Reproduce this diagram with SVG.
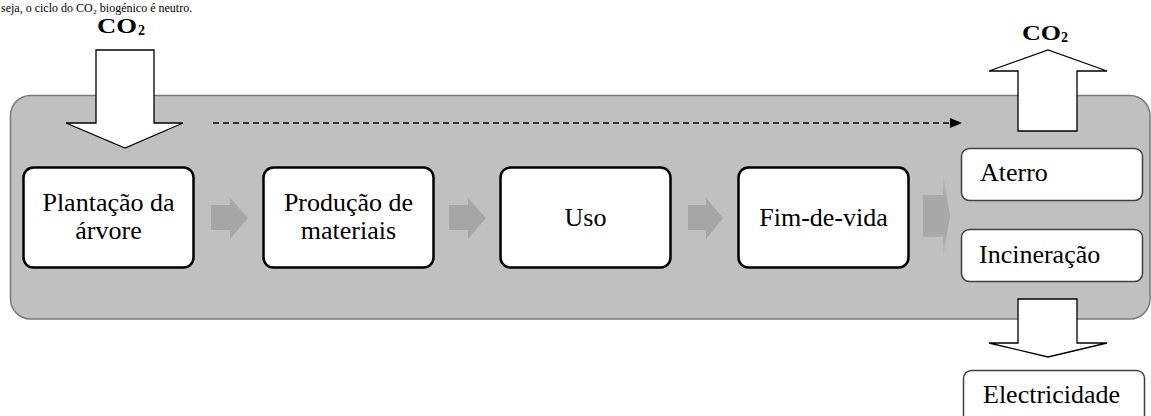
<svg xmlns="http://www.w3.org/2000/svg" width="1151" height="416" viewBox="0 0 1151 416">
<defs>
<style>
.t{font-family:"Liberation Serif","Times New Roman","DejaVu Serif",serif;font-size:26px;fill:#000}
.top{font-family:"Liberation Serif","Times New Roman","DejaVu Serif",serif;font-size:12px;fill:#000}
.co{font-family:"Liberation Serif","Times New Roman","DejaVu Serif",serif;font-size:20px;font-weight:bold;fill:#000}
.sub{font-family:"Liberation Serif","Times New Roman","DejaVu Serif",serif;font-size:14px;font-weight:bold;fill:#000}
.box{fill:#fff;stroke:#000;stroke-width:2.5}
.sbox{fill:#fff;stroke:#404040;stroke-width:1.5}
.big{fill:#fff;stroke:#000;stroke-width:1.3}
.ga{fill:#a6a6a6}
</style>
<linearGradient id="fade" x1="0" y1="0" x2="0" y2="1">
<stop offset="0" stop-color="#c0c0c0"/>
<stop offset="0.3" stop-color="#a8a8a8"/>
<stop offset="0.7" stop-color="#a8a8a8"/>
<stop offset="1" stop-color="#c0c0c0"/>
</linearGradient>
<marker id="ah" viewBox="0 0 12 10" refX="12" refY="5" markerWidth="12" markerHeight="10" markerUnits="userSpaceOnUse" orient="auto">
<path d="M0,0 L12,5 L0,10 Z" fill="#000"/>
</marker>
</defs>
<rect width="1151" height="416" fill="#fff"/>
<text class="top" x="1" y="12">seja, o ciclo do CO₂ biogénico é neutro.</text>

<g id="container">
<rect x="10.5" y="95.5" width="1139.5" height="223.5" rx="20" fill="#c0c0c0" stroke="#7a7a7a" stroke-width="1.5"/>
</g>

<g id="co2-in">
<polygon class="big" points="96,50 154,50 154,123 183,123 125,148 66,123 96,123"/>
<text class="co" x="97" y="33" textLength="40" lengthAdjust="spacingAndGlyphs">CO</text><text class="sub" x="138" y="35">2</text>
</g>

<g id="co2-out">
<polygon class="big" points="1018,131 1077,131 1077,71 1107,71 1048,50 989,71 1018,71"/>
<text class="co" x="1022" y="40" textLength="39" lengthAdjust="spacingAndGlyphs">CO</text><text class="sub" x="1061" y="42">2</text>
</g>

<g id="connectors">
<line x1="213" y1="123" x2="962" y2="123" stroke="#000" stroke-width="1.3" stroke-dasharray="6,4" marker-end="url(#ah)"/>
<polygon class="ga" points="211,205 230,205 230,198 248,218 230,239 230,230 211,230"/>
<polygon class="ga" points="449,205 468,205 468,198 486,218 468,239 468,230 449,230"/>
<polygon class="ga" points="688,205 706,205 706,198 723,218 706,239 706,230 688,230"/>
<polygon fill="url(#fade)" points="923,195 943,195 943,172 950,216 943,259 943,237 923,237"/>
<polygon class="big" points="1018,299 1077,299 1077,343 1107,343 1048,357 989,343 1018,343"/>
</g>

<g id="plantacao">
<rect class="box" x="23.5" y="167.5" width="170" height="100" rx="10"/>
<text class="t" x="108.5" y="211" text-anchor="middle">Plantação da</text>
<text class="t" x="108.5" y="239" text-anchor="middle">árvore</text>
</g>
<g id="producao">
<rect class="box" x="263.5" y="167.5" width="170" height="100" rx="10"/>
<text class="t" x="348.5" y="211" text-anchor="middle">Produção de</text>
<text class="t" x="348.5" y="239" text-anchor="middle">materiais</text>
</g>
<g id="uso">
<rect class="box" x="500.5" y="167.5" width="170" height="100" rx="10"/>
<text class="t" x="585.5" y="226" text-anchor="middle">Uso</text>
</g>
<g id="fimdevida">
<rect class="box" x="738.5" y="167.5" width="170" height="100" rx="10"/>
<text class="t" x="823.5" y="226" text-anchor="middle">Fim-de-vida</text>
</g>
<g id="aterro">
<rect class="sbox" x="961.5" y="148.5" width="181" height="52" rx="8"/>
<text class="t" x="980" y="181">Aterro</text>
</g>
<g id="incineracao">
<rect class="sbox" x="961.5" y="229.5" width="181" height="52" rx="8"/>
<text class="t" x="979" y="263">Incineração</text>
</g>
<g id="electricidade">
<rect class="sbox" x="963.5" y="370.5" width="181" height="60" rx="8"/>
<text class="t" x="983" y="403">Electricidade</text>
</g>
</svg>
